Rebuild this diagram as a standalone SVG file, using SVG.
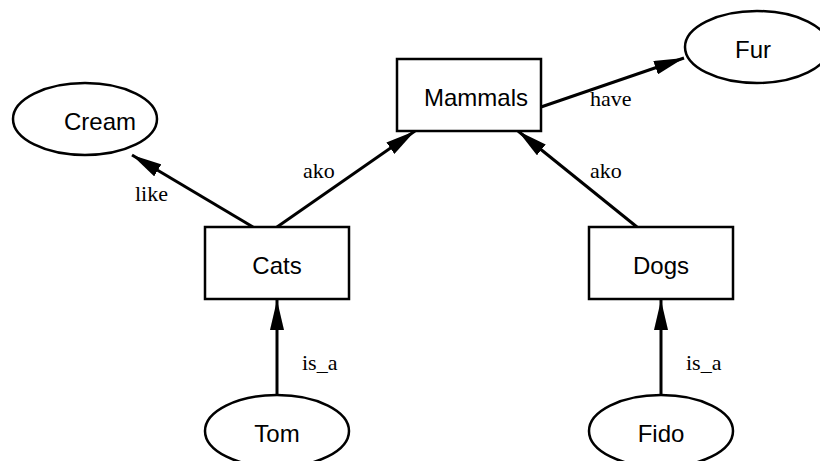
<svg xmlns="http://www.w3.org/2000/svg" width="820" height="461" viewBox="0 0 820 461">
<style>
.node{fill:#fff;stroke:#000;stroke-width:2.5}
.nl{font-family:"Liberation Sans",Arial,sans-serif;font-size:24px;text-anchor:middle;fill:#000}
.el{font-family:"Liberation Serif","Times New Roman",serif;font-size:22px;fill:#000}
.edge{stroke:#000;stroke-width:3;fill:none;marker-end:url(#ah)}
</style>
<defs>
<marker id="ah" markerUnits="userSpaceOnUse" viewBox="0 -7 30 14" refX="30" refY="0" markerWidth="30" markerHeight="14" orient="auto">
<path d="M0,-7 L30,0 L0,7 z" fill="#000"/>
</marker>
</defs>
<rect width="820" height="461" fill="#fff"/>
<g id="connectors">
<line class="edge" x1="253" y1="227" x2="132" y2="155"/>
<line class="edge" x1="277" y1="227" x2="415" y2="131"/>
<line class="edge" x1="637" y1="227" x2="518" y2="131"/>
<line class="edge" x1="541" y1="107" x2="684" y2="58"/>
<line class="edge" x1="277" y1="395" x2="277" y2="300"/>
<line class="edge" x1="661" y1="395" x2="661" y2="300"/>
<text class="el" x="135" y="201">like</text>
<text class="el" x="303" y="178">ako</text>
<text class="el" x="590" y="106">have</text>
<text class="el" x="590" y="178">ako</text>
<text class="el" x="302" y="370">is_a</text>
<text class="el" x="686" y="370">is_a</text>
</g>
<g id="mammals"><rect class="node" x="397" y="59" width="144" height="72"/><text class="nl" x="476" y="106">Mammals</text></g>
<g id="cream"><ellipse class="node" cx="85" cy="119" rx="72" ry="36"/><text class="nl" x="100" y="130">Cream</text></g>
<g id="fur"><ellipse class="node" cx="757" cy="47" rx="72" ry="36"/><text class="nl" x="753" y="58">Fur</text></g>
<g id="cats"><rect class="node" x="205" y="227" width="144" height="72"/><text class="nl" x="277" y="274">Cats</text></g>
<g id="dogs"><rect class="node" x="589" y="227" width="144" height="72"/><text class="nl" x="661" y="274">Dogs</text></g>
<g id="tom"><ellipse class="node" cx="277" cy="431" rx="72" ry="36"/><text class="nl" x="277" y="442">Tom</text></g>
<g id="fido"><ellipse class="node" cx="661" cy="431" rx="72" ry="36"/><text class="nl" x="661" y="442">Fido</text></g>
</svg>
